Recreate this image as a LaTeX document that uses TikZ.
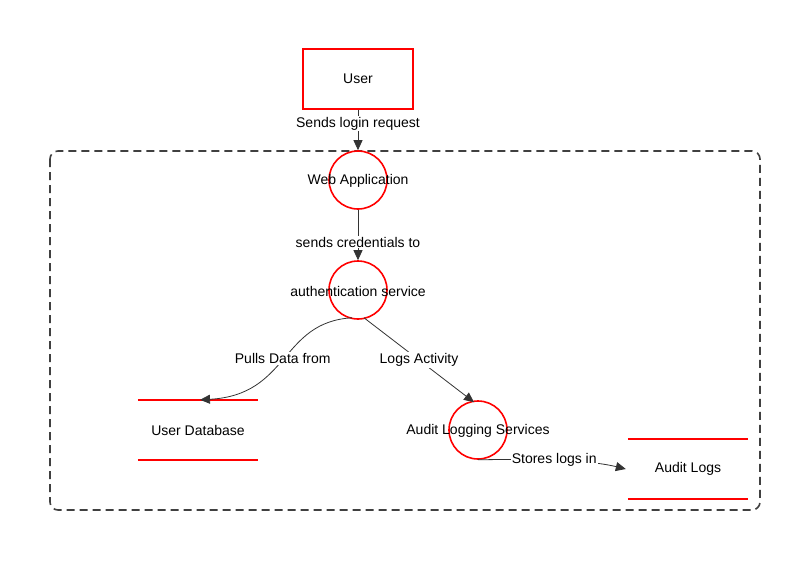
\documentclass[tikz,border=0pt]{standalone}
\usepackage{fontspec}
\setmainfont{Liberation Sans}
\usetikzlibrary{arrows.meta}
\tikzset{
	process/.style={circle, draw=red, line width=1.6pt, minimum size=58pt, inner sep=0pt},
	entity/.style={rectangle, draw=red, line width=1.6pt, minimum width=110pt, minimum height=60pt},
	store/.style={minimum width=120pt, minimum height=60pt, inner sep=0pt},
	storeline/.style={draw=red, line width=1.6pt},
	flow/.style={draw=black!80, line width=0.8pt, -{Triangle[length=10pt, width=9pt]}},
	flowlabel/.style={fill=white, inner sep=1pt},
	boundary/.style={draw=black!75, line width=1.6pt, dash pattern=on 8pt off 5pt, rounded corners=8pt}
}
\begin{document}
\begin{tikzpicture}[x=1pt, y=-1pt, every node/.style={font=\fontsize{14}{17}\selectfont}]
	\useasboundingbox (0,0) rectangle (810,560);
	\draw[boundary] (50,151) rectangle (760,510);
	\node[entity] (user) at (358,79) {User};
	\node[process] (web) at (358,180) {};
	\node at (358,181) {Web Application};
	\node[process] (auth) at (358,290) {};
	\node at (358,291) {authentication service};
	\node[store] (userdb) at (198,430) {User Database};
	\draw[storeline] (userdb.north west) -- (userdb.north east);
	\draw[storeline] (userdb.south west) -- (userdb.south east);
	\node[process] (audit) at (478,430) {};
	\node at (478,431) {Audit Logging Services};
	\node[store] (logs) at (688,469) {Audit Logs};
	\draw[storeline] (logs.north west) -- (logs.north east);
	\draw[storeline] (logs.south west) -- (logs.south east);
	\draw[flow] (user) -- (web.north) node[flowlabel, pos=0.35] {Sends login request};
	\draw[flow] (web.south) -- (auth.north) node[flowlabel, pos=0.64] {sends credentials to};
	\draw[flow] ([xshift=-6pt, yshift=2pt]auth.south) .. controls (280,322) and (290,395) .. ([xshift=2pt]userdb.north) node[flowlabel, pos=0.5] {Pulls Data from};
	\draw[flow] ([xshift=6pt, yshift=2pt]auth.south) -- ([xshift=-4pt, yshift=-2pt]audit.north) node[flowlabel, pos=0.5] {Logs Activity};
	\draw[flow] (audit.south) .. controls (525,459) and (585,459) .. ([xshift=-2pt]logs.west) node[flowlabel, pos=0.5] {Stores logs in};
\end{tikzpicture}
\end{document}
